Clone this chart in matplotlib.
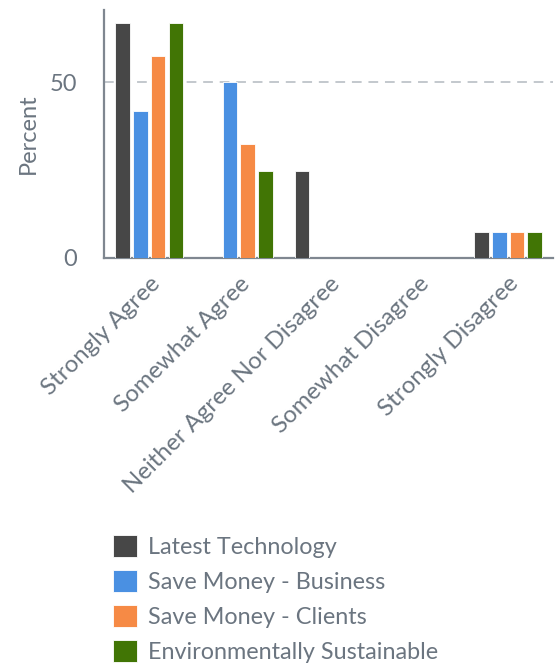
import numpy as np
import matplotlib
matplotlib.use("Agg")
import matplotlib.pyplot as plt
from matplotlib.patches import Patch

plt.rcParams['font.family'] = ['Lato', 'DejaVu Sans']

categories = ["Strongly Agree", "Somewhat Agree", "Neither Agree Nor Disagree",
              "Somewhat Disagree", "Strongly Disagree"]
series = ["Latest Technology", "Save Money - Business",
          "Save Money - Clients", "Environmentally Sustainable"]
latest_tech = [66.7, 0, 24.6, 0, 7.2]
save_business = [41.7, 50.0, 0, 0, 7.2]
save_clients = [57.4, 32.4, 0, 0, 7.2]
env_sustainable = [66.7, 24.6, 0, 0, 7.2]
colors = ["#474747", "#4a90e2", "#f68a45", "#417505"]

text_col = "#6b7580"
axis_col = "#7f8790"

fig = plt.figure(figsize=(5.58, 6.65), dpi=100)
ax = fig.add_axes([0.187, 0.6125, 0.804, 0.3725])

x = np.arange(len(categories))
step = 0.198
width = 0.164
for i, (vals, c) in enumerate(zip([latest_tech, save_business, save_clients, env_sustainable], colors)):
    ax.bar(x + (i - 1.5) * step, vals, width, color=c, edgecolor="white",
           linewidth=0.6, zorder=3)

ax.set_xlim(-0.5, 4.5)
ax.set_ylim(0, 70.5)
ax.set_yticks([0, 50])
ax.axhline(50, color="#c3c8cd", lw=1.4, ls=(0, (5, 3.5)), zorder=1)

ax.set_xticks(x)
ax.set_xticklabels(categories, rotation=45, ha="right", rotation_mode="anchor",
                   fontsize=17.3, color=text_col)
ax.tick_params(axis="x", length=0, pad=11)
ax.tick_params(axis="y", length=0, pad=19.5, labelsize=17, labelcolor=text_col)
ax.set_ylabel("Percent", fontsize=17, color=text_col, labelpad=8)

for s in ["top", "right"]:
    ax.spines[s].set_visible(False)
for s in ["left", "bottom"]:
    ax.spines[s].set_color(axis_col)
    ax.spines[s].set_linewidth(1.6)

handles = [Patch(facecolor=c, edgecolor="white", linewidth=0.6) for c in colors]
fig.legend(handles, series, loc="upper left", bbox_to_anchor=(0.202, 0.195),
           frameon=False, fontsize=16.8, labelcolor=text_col,
           handlelength=1.03, handleheight=1.03, handletextpad=0.47,
           labelspacing=0.53, borderaxespad=0, borderpad=0)

fig.savefig("out.png", dpi=100, facecolor="white")
